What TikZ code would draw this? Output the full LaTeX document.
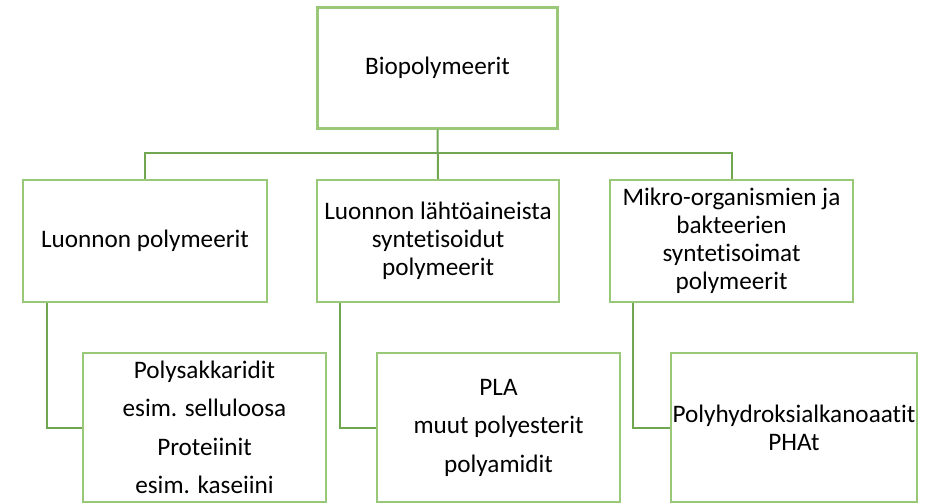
\documentclass[tikz,border=0pt]{standalone}
\usepackage{fontspec}
\setmainfont{Carlito}[Ligatures=NoCommon]
\definecolor{boxgreen}{HTML}{98C878}
\definecolor{linkgreen}{HTML}{72A752}
\tikzset{
  box/.style = {draw=boxgreen, line width=2.2pt, align=center, inner sep=0pt,
    font=\fontsize{25.2}{28}\selectfont},
  wide/.style = {font=\fontsize{25.2}{38.5}\selectfont},
  link/.style = {draw=linkgreen, line width=2pt}
}

\begin{document}
\begin{tikzpicture}[x=1pt,y=-1pt]
  \useasboundingbox (0,0) rectangle (928,503);
  \node[box,minimum width=240,minimum height=121] (bio) at (437.5,68) {Biopolymeerit};
  \node[box,minimum width=244,minimum height=122] (luo) at (145,241) {Luonnon polymeerit};
  \node[box,minimum width=242,minimum height=122] (syn) at (438,241)
    {Luonnon lähtöaineista\\syntetisoidut\\polymeerit};
  \node[box,minimum width=243,minimum height=122] (mik) at (731.5,241)
    {Mikro-organismien ja\\bakteerien\\syntetisoimat\\polymeerit};
  \node[box,wide,minimum width=243,minimum height=149] (sak) at (204.5,427.5)
    {Polysakkaridit\\esim. selluloosa\\Proteiinit\\esim. kaseiini};
  \node[box,wide,minimum width=243,minimum height=149] (pla) at (498.5,427.5)
    {PLA\\muut polyesterit\\polyamidit};
  \node[box,minimum width=246,minimum height=149] (pha) at (794,427.5)
    {Polyhydroksialkanoaatit\\PHAt};
  \coordinate (bus) at (437.5,153);
  \draw[link] (bio.south) -- (syn.north);
  \draw[link] (luo.north) |- (bus) -| (mik.north);
  \draw[link] ([xshift=25pt]luo.south west) |- (sak.west);
  \draw[link] ([xshift=24pt]syn.south west) |- (pla.west);
  \draw[link] ([xshift=24pt]mik.south west) |- (pha.west);
\end{tikzpicture}
\end{document}
